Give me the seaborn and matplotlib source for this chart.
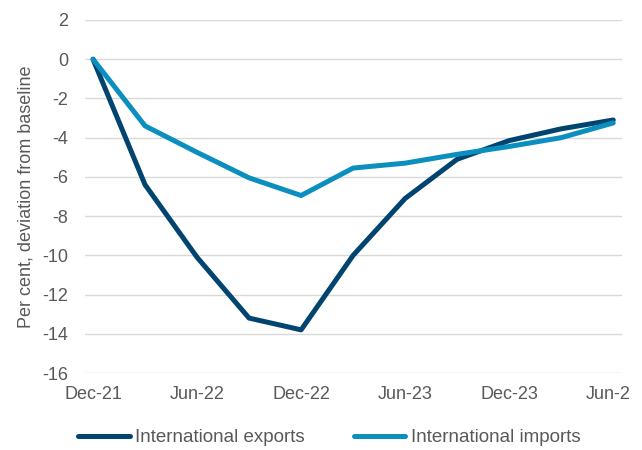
import matplotlib
matplotlib.use("Agg")
import matplotlib.pyplot as plt
from matplotlib.lines import Line2D
from matplotlib.transforms import Bbox, TransformedBbox
import seaborn as sns
import pandas as pd

# Quarterly deviation from baseline, per cent
quarters = ["Dec-21", "Mar-22", "Jun-22", "Sep-22", "Dec-22", "Mar-23",
            "Jun-23", "Sep-23", "Dec-23", "Mar-24", "Jun-24"]
exports = [0.0, -6.4, -10.1, -13.2, -13.8, -10.0, -7.1, -5.1, -4.15, -3.55, -3.1]
imports = [0.0, -3.4, -4.75, -6.05, -6.95, -5.55, -5.3, -4.85, -4.45, -4.0, -3.25]
tick_labels = ["Dec-21", "Jun-22", "Dec-22", "Jun-23", "Dec-23", "Jun-24"]
series_names = ["International exports", "International imports"]

df = pd.DataFrame({
    "idx": list(range(len(quarters))) * 2,
    "value": exports + imports,
    "series": [series_names[0]] * len(quarters) + [series_names[1]] * len(quarters),
})

sns.set_theme(style="white")
plt.rcParams["font.family"] = ["Liberation Sans", "DejaVu Sans"]
plt.rcParams["axes.unicode_minus"] = False

text_col = "#595959"
fs = 13
palette = {series_names[0]: "#00446F", series_names[1]: "#0A8FBF"}

fig = plt.figure(figsize=(6.42, 4.5), dpi=100)
ax = fig.add_axes([0.1324, 0.1711, 0.8366, 0.7845])

sns.lineplot(data=df, x="idx", y="value", hue="series", palette=palette,
             linewidth=3.6, ax=ax, legend=False, sort=False)
for line in ax.get_lines():
    line.set_solid_capstyle("round")
    line.set_solid_joinstyle("round")

ax.set_xlim(-0.154, 10.17)
ax.set_ylim(-16, 2)
ax.set_yticks(range(-16, 3, 2))
ax.set_xticks(range(0, len(quarters), 2))
ax.set_xticklabels(tick_labels)
ax.grid(axis="y", color="#D9D9D9", linewidth=1)
ax.grid(axis="x", visible=False)
for s in ax.spines.values():
    s.set_visible(False)
ax.tick_params(axis="both", length=0, labelsize=fs, colors=text_col)
ax.tick_params(axis="x", pad=9)
ax.tick_params(axis="y", pad=12)
ax.set_xlabel("")
ax.set_ylabel("Per cent, deviation from baseline", fontsize=fs, color=text_col, labelpad=6)

# chart area ends just short of the last label
clip = TransformedBbox(Bbox([[0, 0], [629 / 642, 1]]), fig.transFigure)
for lab in ax.get_xticklabels():
    lab.set_clip_box(clip)
    lab.set_clip_on(True)

handles = [Line2D([0], [0], color=palette[n], linewidth=3.6, solid_capstyle="round")
           for n in series_names]
fig.legend(handles, series_names, loc="center", bbox_to_anchor=(0.513, 0.027),
           ncol=2, frameon=False, fontsize=13.5, labelcolor=text_col,
           handlelength=2.75, handletextpad=0.3, columnspacing=2.6)

fig.savefig("out.png", dpi=100)
